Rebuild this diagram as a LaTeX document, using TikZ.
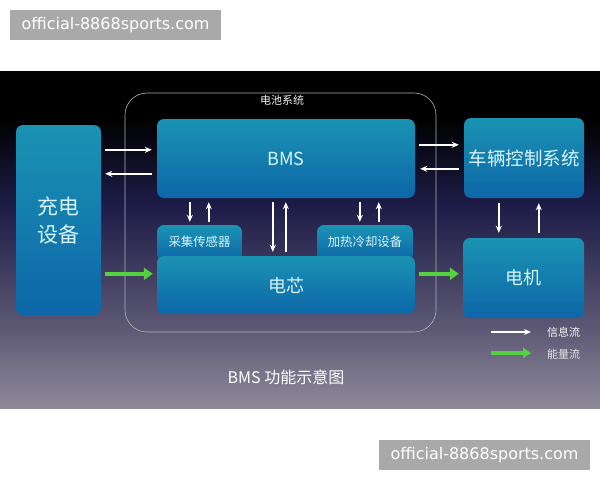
\documentclass[tikz,border=0pt]{standalone}
\usepackage{fontspec}
\newfontfamily\cjk{Noto Sans CJK SC}
\newfontfamily\wmfont{DejaVu Sans}
\usetikzlibrary{arrows.meta,calc}
\definecolor{bgbot}{HTML}{8E8A9A}
\definecolor{bgmidb}{HTML}{5C5874}
\definecolor{bgmid}{HTML}{1E1C48}
\definecolor{boxtop}{HTML}{1A93B3}
\definecolor{boxbot}{HTML}{0D66A8}
\definecolor{txtc}{HTML}{D8F4F8}
\definecolor{greenar}{HTML}{55D040}
\definecolor{wmgray}{HTML}{A9A9A9}
\pgfdeclareverticalshading{panelbg}{100bp}{color(0bp)=(bgbot); color(25bp)=(bgbot); color(37bp)=(bgmidb); color(55bp)=(bgmid); color(68bp)=(black); color(100bp)=(black)}
\tikzset{
  blk/.style={rounded corners=7pt, top color=boxtop, bottom color=boxbot, draw=none, inner sep=0pt, text=txtc, font=\cjk},
  info/.style={draw=white, line width=1.5pt, -{Stealth[length=7pt,width=6pt]}},
  energy/.style={draw=greenar, line width=4pt, -{Triangle[length=9pt,width=12pt]}},
  wm/.style={fill=wmgray, text=white, font=\wmfont\fontsize{16}{18}\selectfont, inner sep=0pt},
  lbl/.style={text=txtc, font=\cjk, inner sep=0pt}
}
\begin{document}
\begin{tikzpicture}[x=1pt,y=-1pt]
\useasboundingbox (0,0) rectangle (600,480);
\fill[white] (0,0) rectangle (600,480);
\shade[shading=panelbg] (0,71) rectangle (600,408);
% watermarks
\node[wm, minimum width=211pt, minimum height=30pt] (wm1) at (115.5,25) {official-8868sports.com};
\node[wm, minimum width=211pt, minimum height=30pt] (wm2) at (484.5,455) {official-8868sports.com};
% battery system frame
\draw[draw=gray!60, line width=0.6pt, rounded corners=22pt] (125,93) rectangle (436,332);
\node[text=white!90!gray, font=\cjk\fontsize{11}{13}\selectfont, inner sep=0pt] (bslabel) at (282,100) {电池系统};
% boxes
\node[blk, minimum width=85pt, minimum height=190pt] (charge) at (58.5,220) {};
\node[lbl, font=\cjk\fontsize{21}{28}\selectfont, align=center] (chargetxt) at (58.5,221) {充电\\设备};
\node[blk, minimum width=258pt, minimum height=79pt, font=\cjk\fontsize{18}{20}\selectfont] (bms) at (286,158.5) {BMS};
\node[blk, minimum width=85pt, minimum height=36pt] (sensor) at (199.5,243) {};
\node[lbl, font=\cjk\fontsize{12.4}{14}\selectfont] (sensortxt) at (199.5,241.5) {采集传感器};
\node[blk, minimum width=96pt, minimum height=36pt] (heat) at (365,243) {};
\node[lbl, font=\cjk\fontsize{12.4}{14}\selectfont] (heattxt) at (365,241.5) {加热冷却设备};
\node[blk, minimum width=258pt, minimum height=58pt, font=\cjk\fontsize{18}{20}\selectfont] (cell) at (286,285) {电芯};
\node[blk, minimum width=120pt, minimum height=80pt, font=\cjk\fontsize{18.5}{20}\selectfont] (veh) at (524,158) {车辆控制系统};
\node[blk, minimum width=121pt, minimum height=80pt, font=\cjk\fontsize{18}{20}\selectfont] (motor) at (523.5,278) {电机};
% horizontal arrows
\draw[info] ($(charge.north east)+(4,25)$) -- ($(bms.north west)+(-5,31)$);
\draw[info] ($(bms.north west)+(-5,55)$) -- ($(charge.north east)+(4,49)$);
\draw[energy] ($(charge.north east)+(4,149)$) -- ($(cell.north west)+(-4,18)$);
\draw[info] ($(bms.north east)+(4,26)$) -- ($(veh.north west)+(-5,27)$);
\draw[info] ($(veh.north west)+(-5,51)$) -- ($(bms.north east)+(5,50)$);
\draw[energy] ($(cell.north east)+(4,18)$) -- ($(motor.north west)+(-4,36)$);
% vertical arrows
\draw[info] ($(bms.south west)+(33,4)$) -- ($(sensor.north west)+(33,-3)$);
\draw[info] ($(sensor.north west)+(52,-3)$) -- ($(bms.south west)+(52,4)$);
\draw[info] ($(bms.south west)+(116,4)$) -- ($(cell.north west)+(116,-4)$);
\draw[info] ($(cell.north west)+(129,-4)$) -- ($(bms.south west)+(129,4)$);
\draw[info] ($(bms.south west)+(203,4)$) -- ($(heat.north west)+(43,-3)$);
\draw[info] ($(heat.north west)+(62,-3)$) -- ($(bms.south west)+(222,4)$);
\draw[info] ($(veh.south west)+(35,5)$) -- ($(motor.north west)+(36,-5)$);
\draw[info] ($(motor.north west)+(76,-5)$) -- ($(veh.south west)+(75,5)$);
% legend
\coordinate (lg1a) at (491,332);
\coordinate (lg1b) at (531,332);
\coordinate (lg2a) at (491,353);
\coordinate (lg2b) at (531,353);
\draw[info] (lg1a) -- (lg1b);
\draw[energy, line width=3.5pt, -{Triangle[length=8pt,width=10pt]}] (lg2a) -- (lg2b);
\node[text=white!92!gray, font=\cjk\fontsize{11}{13}\selectfont, inner sep=0pt, anchor=west] (lgt1) at (547,332) {信息流};
\node[text=white!80!gray, font=\cjk\fontsize{11}{13}\selectfont, inner sep=0pt, anchor=west] (lgt2) at (547,354) {能量流};
% title
\node[text=white, font=\cjk\fontsize{16}{18}\selectfont, inner sep=0pt] (title) at (286,377) {BMS 功能示意图};
\end{tikzpicture}
\end{document}
